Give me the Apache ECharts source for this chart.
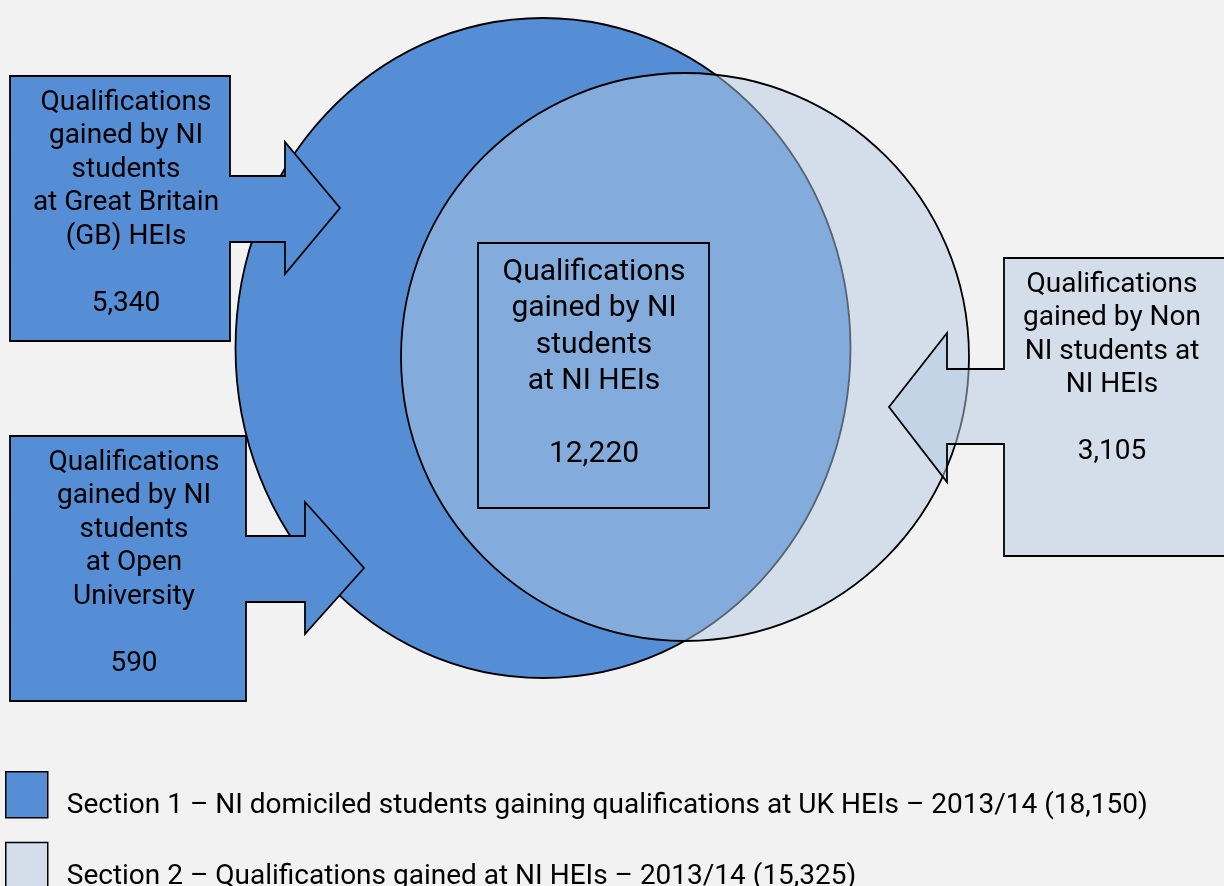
<!DOCTYPE html>
<html>
<head>
<meta charset="utf-8">
<script src="https://cdn.jsdelivr.net/npm/echarts@6/dist/echarts.min.js"></script>
<style>
  html, body { margin: 0; padding: 0; background: #F2F2F2; }
  #chart { width: 1224px; height: 886px; }
</style>
</head>
<body>
<div id="chart"></div>
<script>
// ---------- DATA ----------
const sectionNames = [
  'Section 1 – NI domiciled students gaining qualifications at UK HEIs – 2013/14',
  'Section 2 – Qualifications gained at NI HEIs – 2013/14'
];
const sectionTotals = [18150, 15325];

const calloutLabels = [
  'Qualifications\ngained by NI\nstudents\nat Great Britain\n(GB) HEIs',
  'Qualifications\ngained by NI\nstudents\nat Open\nUniversity',
  'Qualifications\ngained by Non\nNI students at\nNI HEIs'
];
const calloutValues = [5340, 590, 3105];

const centreLabel = 'Qualifications\ngained by NI\nstudents\nat NI HEIs';
const centreValue = [12220];

// ---------- LAYOUT (page pixel units on hidden axes) ----------
const W = 1224, H = 886;
const FONT = 'Roboto, "Liberation Sans", sans-serif';
const layout = {
  section1: { cx: 543, cy: 348, rx: 307.5, ry: 330 },
  section2: { cx: 685, cy: 357, rx: 284, ry: 284 },
  callouts: [
    { pts: [[10,76],[230,76],[230,176],[285,176],[285,142],[340,208],[285,274],[285,242],[230,242],[230,341],[10,341]],
      tx: 126, ty: 86, fill: '#558ED5', blankLines: 1 },
    { pts: [[10,436],[246,436],[246,536],[305,536],[305,502],[364,568],[305,634],[305,602],[246,602],[246,701],[10,701]],
      tx: 134, ty: 446, fill: '#558ED5', blankLines: 1 },
    { pts: [[1240,258],[1004,258],[1004,369],[947,369],[947,333],[889,407],[947,482],[947,444],[1004,444],[1004,556],[1240,556]],
      tx: 1112, ty: 268, fill: 'rgba(179,201,226,0.49)', blankLines: 1 }
  ],
  centre: { x0: 478, y0: 243, x1: 709, y1: 508, tx: 594, ty: 254 },
  fontSize: 28, lineHeight: 33.5,
  centreFontSize: 30, centreLineHeight: 36.5
};

const fmt = v => v.toLocaleString('en-GB');

function ellipseRender(L, fill) {
  return function (params, api) {
    const c = api.coord([L.cx, L.cy]);
    const e = api.coord([L.cx + L.rx, L.cy + L.ry]);
    return {
      type: 'ellipse',
      shape: { cx: c[0], cy: c[1], rx: Math.abs(e[0] - c[0]), ry: Math.abs(e[1] - c[1]) },
      style: { fill: fill, stroke: '#000', lineWidth: 1.8 }
    };
  };
}

function calloutRender(params, api) {
  const seriesIdx = params.seriesName === 'right callout' ? 2 : 0;
  const i = seriesIdx + params.dataIndex;
  const L = layout.callouts[i];
  const pts = L.pts.map(p => api.coord(p));
  const t = api.coord([L.tx, L.ty]);
  let blank = '\n';
  for (let k = 0; k < L.blankLines; k++) blank += '\n';
  return {
    type: 'group',
    children: [
      { type: 'polygon', shape: { points: pts }, style: { fill: L.fill, stroke: '#000', lineWidth: 1.8 } },
      { type: 'text', style: {
          text: calloutLabels[i] + blank + fmt(calloutValues[i]),
          x: t[0], y: t[1], align: 'center', verticalAlign: 'top',
          fontFamily: FONT, fontSize: layout.fontSize, lineHeight: layout.lineHeight, fill: '#000' } }
    ]
  };
}

const chart = echarts.init(document.getElementById('chart'), null, { renderer: 'canvas' });

const option = {
  backgroundColor: '#F2F2F2',
  animation: false,
  grid: { left: 0, right: 0, top: 0, bottom: 0 },
  xAxis: { type: 'value', min: 0, max: W, show: false },
  yAxis: { type: 'value', min: 0, max: H, inverse: true, show: false },
  legend: {
    orient: 'vertical',
    left: 5, top: 771, height: 200,
    padding: 0,
    itemWidth: 42, itemHeight: 46, itemGap: 22,
    icon: 'rect',
    selectedMode: false,
    textStyle: {
      fontFamily: FONT, fontSize: 28, color: '#000',
      rich: { t: { fontFamily: FONT, fontSize: 28, color: '#000', padding: [22, 0, 0, 14] } }
    },
    data: [
      { name: sectionNames[0], itemStyle: { color: '#558ED5', borderColor: '#000', borderWidth: 1.5 } },
      { name: sectionNames[1], itemStyle: { color: '#D3DEEA', borderColor: '#000', borderWidth: 1.5 } }
    ],
    formatter: name => '{t|' + name + ' (' + fmt(sectionTotals[sectionNames.indexOf(name)]) + ')}'
  },
  series: [
    {
      name: sectionNames[0], type: 'custom', z: 1, clip: false,
      data: [sectionTotals[0]],
      renderItem: ellipseRender(layout.section1, '#558ED5')
    },
    {
      name: 'left callouts', type: 'custom', z: 2, clip: false,
      data: calloutValues.slice(0, 2),
      renderItem: calloutRender
    },
    {
      name: sectionNames[1], type: 'custom', z: 3, clip: false,
      data: [sectionTotals[1]],
      renderItem: ellipseRender(layout.section2, 'rgba(179,201,226,0.49)')
    },
    {
      name: 'right callout', type: 'custom', z: 4, clip: false,
      data: calloutValues.slice(2),
      renderItem: calloutRender
    },
    {
      name: 'centre', type: 'custom', z: 5, clip: false,
      data: centreValue,
      renderItem: function (params, api) {
        const C = layout.centre;
        const p0 = api.coord([C.x0, C.y0]);
        const p1 = api.coord([C.x1, C.y1]);
        const t = api.coord([C.tx, C.ty]);
        return {
          type: 'group',
          children: [
            { type: 'rect', shape: { x: p0[0], y: p0[1], width: p1[0] - p0[0], height: p1[1] - p0[1] },
              style: { fill: 'none', stroke: '#000', lineWidth: 1.8 } },
            { type: 'text', style: {
                text: centreLabel + '\n\n' + fmt(api.value(0)),
                x: t[0], y: t[1], align: 'center', verticalAlign: 'top',
                fontFamily: FONT, fontSize: layout.centreFontSize, lineHeight: layout.centreLineHeight, fill: '#000' } }
          ]
        };
      }
    }
  ]
};

chart.setOption(option);
</script>
</body>
</html>
